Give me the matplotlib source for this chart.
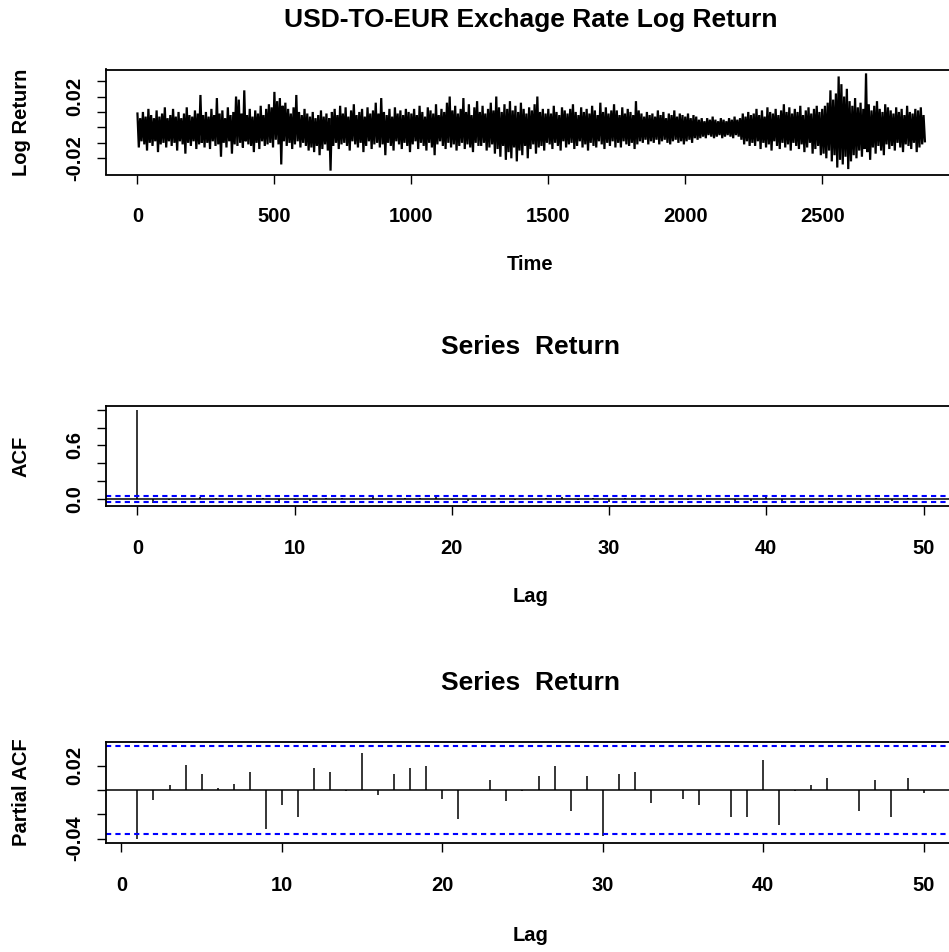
import numpy as np
import matplotlib
matplotlib.use("Agg")
import matplotlib.pyplot as plt

plt.rcParams['font.family'] = ['Liberation Sans', 'DejaVu Sans']
plt.rcParams['font.weight'] = 'bold'
plt.rcParams['axes.labelweight'] = 'bold'

# USD -> EUR daily log returns, high / low swing in each 10-day block (x 0.001)
ret_hi = [9, 6, 10, 7, 12, 8, 6, 11, 7, 9, 13, 6,
          8, 12, 7, 10, 6, 9, 13, 8, 7, 11, 9, 21, 8,
          10, 7, 12, 8, 19, 9, 11, 6, 13, 8, 10, 20,
          18, 9, 24, 8, 12, 7, 11, 9, 14, 8, 12, 15, 13,
          23, 17, 19, 14, 16, 12, 9, 13, 21, 10, 8, 12, 9,
          7, 10, 6, 8, 11, 7, 9, 6, 10, 12, 8, 14,
          9, 13, 7, 11, 15, 8, 10, 12, 7, 13, 9, 11, 16,
          9, 19, 10, 8, 12, 7, 13, 9, 11, 8, 12, 10,
          9, 12, 8, 14, 10, 7, 13, 11, 9, 15, 8, 12, 10,
          16, 20, 11, 14, 9, 12, 19, 10, 15, 8, 13, 17,
          10, 14, 9, 12, 16, 11, 20, 13, 10, 15, 12, 17, 11,
          14, 10, 16, 12, 9, 13, 11, 15, 20, 10, 12, 9,
          12, 9, 14, 10, 8, 13, 11, 9, 12, 15, 10, 8, 13,
          10, 12, 9, 14, 11, 8, 16, 10, 13, 9, 11, 15,
          11, 8, 13, 9, 12, 10, 8, 17, 11, 9, 7, 10, 8,
          9, 7, 11, 8, 10, 6, 9, 8, 11, 7, 9, 8,
          7, 9, 6, 8, 7, 5, 6, 4, 6, 5, 7, 5, 4,
          6, 5, 4, 6, 5, 7, 5, 6, 9, 7, 10, 8,
          9, 12, 8, 11, 7, 13, 10, 9, 12, 8, 11, 15, 10,
          13, 9, 12, 10, 14, 8, 11, 13, 9, 12, 14, 10,
          12, 14, 16, 24, 18, 22, 33, 28, 20, 25, 17, 14, 19,
          13, 16, 12, 35, 15, 11, 14, 17, 12, 10, 15, 13,
          11, 9, 13, 10, 12, 8, 14, 10, 9, 12, 11, 13, 8]
ret_lo = [-13, -9, -11, -15, -10, -12, -9, -16, -11, -10, -13, -9,
          -12, -10, -15, -9, -11, -17, -10, -12, -9, -14, -11, -10, -13,
          -10, -14, -9, -12, -11, -19, -10, -13, -9, -17, -11, -12,
          -10, -13, -9, -11, -12, -16, -10, -14, -9, -12, -11, -10, -13,
          -8, -11, -24, -9, -12, -10, -14, -11, -9, -13, -10, -12, -15,
          -13, -16, -12, -18, -14, -11, -15, -28, -12, -10, -14, -11,
          -10, -12, -15, -9, -11, -13, -10, -16, -12, -9, -14, -11, -10,
          -13, -11, -18, -10, -12, -15, -9, -11, -14, -10, -12, -16,
          -11, -9, -14, -10, -12, -15, -10, -13, -18, -11, -9, -12, -14,
          -10, -13, -11, -15, -12, -10, -14, -11, -13, -16, -10, -12,
          -12, -10, -15, -13, -11, -17, -14, -19, -12, -21, -16, -20, -13,
          -22, -15, -18, -12, -20, -14, -11, -17, -13, -12, -15, -10,
          -11, -14, -10, -12, -15, -9, -13, -11, -10, -14, -12, -9, -13,
          -11, -15, -10, -12, -13, -9, -11, -14, -10, -12, -9, -13,
          -10, -13, -9, -11, -12, -10, -14, -11, -9, -10, -8, -11, -9,
          -10, -8, -11, -9, -8, -10, -11, -9, -8, -10, -9, -11,
          -9, -8, -10, -7, -8, -7, -6, -7, -5, -6, -7, -6, -5,
          -7, -6, -5, -6, -7, -5, -6, -8, -11, -9, -12, -10,
          -12, -9, -14, -10, -13, -11, -15, -9, -12, -14, -10, -13, -11,
          -15, -10, -12, -14, -11, -16, -13, -10, -17, -14, -12, -18,
          -17, -20, -15, -22, -18, -26, -21, -24, -19, -27, -22, -18, -20,
          -15, -19, -14, -16, -21, -13, -17, -12, -15, -18, -11, -14,
          -12, -15, -10, -13, -16, -11, -12, -14, -10, -16, -13, -11, -9]
block = 10

# sample autocorrelations, lags 0..50
acf_vals = [1.0, -0.039, -0.007, 0.003, 0.020, 0.012, 0.002, 0.005, 0.014, -0.031,
            -0.012, -0.021, 0.017, 0.014, -0.001, 0.030, -0.004, 0.013, 0.017, 0.019,
            -0.007, -0.023, 0.001, 0.008, -0.009, -0.001, 0.011, 0.019, -0.016, 0.011,
            -0.036, 0.013, 0.014, -0.010, 0.001, -0.007, -0.012, 0.001, -0.021, -0.021,
            0.024, -0.027, -0.001, 0.004, 0.010, 0.001, -0.016, 0.008, -0.021, 0.010,
            -0.003]
# partial autocorrelations, lags 1..50
pacf_vals = [-0.040, -0.008, 0.004, 0.021, 0.013, 0.002, 0.005, 0.015, -0.032, -0.012,
             -0.022, 0.018, 0.015, -0.001, 0.031, -0.004, 0.0135, 0.018, 0.020, -0.0076,
             -0.024, 0.0005, 0.008, -0.009, -0.0005, 0.0116, 0.020, -0.017, 0.0116, -0.038,
             0.0135, 0.015, -0.011, 0.0005, -0.0076, -0.0124, 0.0005, -0.022, -0.022, 0.025,
             -0.0286, -0.0005, 0.004, 0.0103, 0.0005, -0.017, 0.0086, -0.022, 0.0103, -0.0027]
n_obs = 2870
ci = 1.96 / np.sqrt(n_obs)

W, H = 949, 952
fig = plt.figure(figsize=(W / 100, H / 100), dpi=100)


def add_ax(left, top, right, bottom):
    return fig.add_axes([left / W, 1 - bottom / H, (right - left) / W, (bottom - top) / H])


def style(ax):
    for s in ax.spines.values():
        s.set_linewidth(1.3)
    ax.tick_params(direction='out', length=6.5, width=1.0, labelsize=14.5)
    ax.tick_params(axis='x', pad=17)
    ax.tick_params(axis='y', pad=9)


ax1 = add_ax(106, 69.5, 955, 174.5)
ax2 = add_ax(106, 406, 955, 506)
ax3 = add_ax(106, 742, 955, 843)

# top: the return series, drawn as the high/low swing of each block
t = np.arange(len(ret_hi)) * block
xs = np.column_stack([t, t + block / 2]).ravel()
ys = np.column_stack([ret_hi, ret_lo]).ravel() / 1000.0
ax1.plot(xs, ys, color='black', lw=1.6, solid_joinstyle='miter')
ax1.set_xlim(-114.8, 2984.8)
ax1.set_ylim(-0.0305, 0.0375)
ax1.set_xticks([0, 500, 1000, 1500, 2000, 2500])
ax1.set_yticks([-0.02, -0.01, 0.0, 0.01, 0.02, 0.03])
ax1.set_yticklabels(['-0.02', '', '', '', '0.02', ''], rotation=90, va='center', ha='right')
style(ax1)
ax1.set_xlabel('Time', fontsize=14.5, va='center')
ax1.xaxis.set_label_coords(0.5, -0.857)
ax1.set_ylabel('Log Return', fontsize=14.5, va='center', ha='center')
ax1.yaxis.set_label_coords(-0.1, 0.5)
ax1.text(0.5, 1.471, 'USD-TO-EUR Exchage Rate Log Return', transform=ax1.transAxes,
         ha='center', va='center', fontsize=19)

# middle: ACF
lags = np.arange(len(acf_vals))
ax2.vlines(lags, 0, acf_vals, color='black', lw=1.1)
ax2.axhline(0, color='black', lw=1.1)
for c in (ci, -ci):
    ax2.axhline(c, color='#0000ff', lw=1.5, ls=(0, (2.5, 2)))
ax2.set_xlim(-2, 52)
ax2.set_ylim(-0.078, 1.0415)
ax2.set_xticks(range(0, 51, 10))
ax2.set_yticks([0.0, 0.2, 0.4, 0.6, 0.8, 1.0])
ax2.set_yticklabels(['0.0', '', '', '0.6', '', ''], rotation=90, va='center', ha='right')
style(ax2)
ax2.set_xlabel('Lag', fontsize=14.5, va='center')
ax2.xaxis.set_label_coords(0.5, -0.91)
ax2.set_ylabel('ACF', fontsize=14.5, va='center', ha='center')
ax2.yaxis.set_label_coords(-0.1, 0.5)
ax2.text(0.5, 1.59, 'Series  Return', transform=ax2.transAxes,
         ha='center', va='center', fontsize=19)

# bottom: partial ACF
plags = np.arange(1, len(pacf_vals) + 1)
ax3.vlines(plags, 0, pacf_vals, color='black', lw=1.1)
ax3.axhline(0, color='black', lw=1.1)
for c in (ci, -ci):
    ax3.axhline(c, color='#0000ff', lw=1.5, ls=(0, (2.5, 2)))
ax3.set_xlim(-0.96, 51.96)
ax3.set_ylim(-0.0436, 0.0397)
ax3.set_xticks(range(0, 51, 10))
ax3.set_yticks([-0.04, -0.02, 0.0, 0.02])
ax3.set_yticklabels(['-0.04', '', '', '0.02'], rotation=90, va='center', ha='right')
style(ax3)
ax3.set_xlabel('Lag', fontsize=14.5, va='center')
ax3.xaxis.set_label_coords(0.5, -0.92)
ax3.set_ylabel('Partial ACF', fontsize=14.5, va='center', ha='center')
ax3.yaxis.set_label_coords(-0.1, 0.5)
ax3.text(0.5, 1.584, 'Series  Return', transform=ax3.transAxes,
         ha='center', va='center', fontsize=19)

fig.savefig('out.png', dpi=100)
